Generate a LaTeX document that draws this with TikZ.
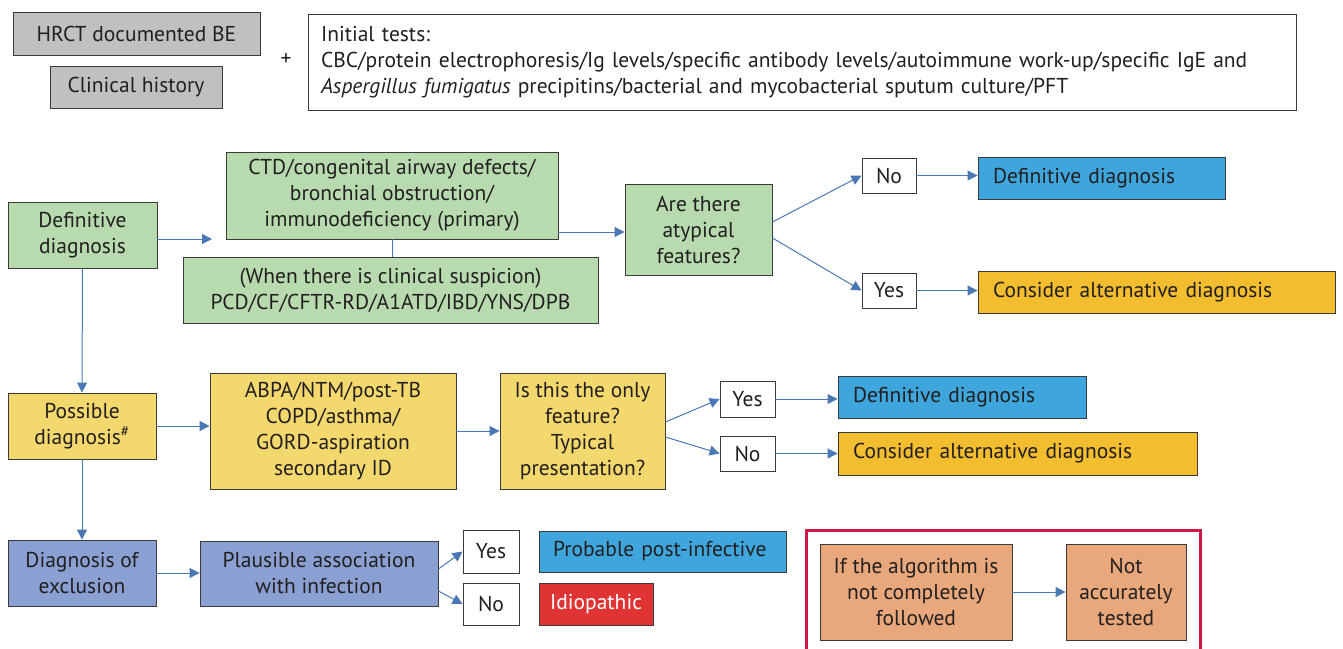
\documentclass[tikz,border=0pt]{standalone}
\usepackage{fontspec}
\setmainfont{PT Sans}
\usetikzlibrary{arrows.meta}
\definecolor{ink}{HTML}{231F20}
\definecolor{edge}{HTML}{3A3A3A}
\definecolor{greyfill}{HTML}{C0C0C0}
\definecolor{greenfill}{HTML}{B7DAAF}
\definecolor{bluefill}{HTML}{3EA6DD}
\definecolor{goldfill}{HTML}{F2BD2F}
\definecolor{yellowfill}{HTML}{F3D86D}
\definecolor{perifill}{HTML}{8AA0D3}
\definecolor{redfill}{HTML}{E03434}
\definecolor{salmonfill}{HTML}{E8A87C}
\definecolor{framered}{HTML}{D0174A}
\definecolor{arrowblue}{HTML}{4A78B5}
\tikzset{
  every node/.style={font=\fontsize{21.5}{26}\selectfont, text=ink},
  box/.style={draw=edge, line width=0.9pt, rectangle, inner sep=2pt, align=center},
  answer/.style={box, fill=white},
  result/.style={box, align=left, inner xsep=15pt},
  arr/.style={draw=arrowblue, line width=1pt, -{Triangle[length=10pt,width=10pt]}},
  link/.style={draw=arrowblue, line width=1pt},
}
\begin{document}
\begin{tikzpicture}[x=1pt,y=-1pt]
\useasboundingbox (0,0) rectangle (1343,648);
\clip (0,0) rectangle (1343,648);
\fill[white] (0,0) rectangle (1343,648);

% starting information
\node[box, fill=greyfill, minimum width=247pt, minimum height=43pt] (hrct) at (136.5,33.5) {HRCT documented BE};
\node[box, fill=greyfill, minimum width=172pt, minimum height=42pt] (clin) at (136,87) {Clinical history};
\node (plus) at (286,60) {+};
\node[box, fill=white, align=left, inner xsep=13pt, text width=962pt, minimum height=96pt] (init) at (802,62)
  {Initial tests:\\
   CBC/protein electrophoresis/Ig levels/specific antibody levels/autoimmune work-up/specific IgE and\\
   \textit{Aspergillus fumigatus} precipitins/bacterial and mycobacterial sputum culture/PFT};

% definitive diagnosis branch
\node[box, fill=greenfill, minimum width=149pt, minimum height=66pt] (def) at (82.5,235) {Definitive\\diagnosis};
\node[box, fill=greenfill, minimum width=332pt, minimum height=87pt] (ctd) at (392,195.5)
  {CTD/congenital airway defects/\\bronchial obstruction/\\immunodeficiency (primary)};
\node[box, fill=greenfill, minimum width=415pt, minimum height=66pt] (when) at (390.5,290)
  {(When there is clinical suspicion)\\PCD/CF/CFTR-RD/A1ATD/IBD/YNS/DPB};
\node[box, fill=greenfill, minimum width=147pt, minimum height=91pt] (atyp) at (698.5,229.5)
  {Are there\\atypical\\features?};
\node[answer, minimum width=54pt, minimum height=35pt] (no1) at (889,175.5) {No};
\node[answer, minimum width=54pt, minimum height=35pt] (yes1) at (889,290.5) {Yes};
\node[result, fill=bluefill, text width=217pt, minimum height=42pt] (defA) at (1101.5,178) {Definitive diagnosis};
\node[result, fill=goldfill, text width=327pt, minimum height=42pt] (altA) at (1156.5,292) {Consider alternative diagnosis};

% possible diagnosis branch
\node[box, fill=yellowfill, minimum width=148pt, minimum height=66pt] (poss) at (82,426) {Possible\\diagnosis\textsuperscript{\#}};
\node[box, fill=yellowfill, minimum width=246pt, minimum height=116pt] (abpa) at (333,431)
  {ABPA/NTM/post-TB\\COPD/asthma/\\GORD-aspiration\\secondary ID};
\node[box, fill=yellowfill, minimum width=165pt, minimum height=116pt] (only) at (582.5,431)
  {Is this the only\\feature?\\Typical\\presentation?};
\node[answer, minimum width=55pt, minimum height=36pt] (yes2) at (747.5,399) {Yes};
\node[answer, minimum width=55pt, minimum height=35pt] (no2) at (747.5,453.5) {No};
\node[result, fill=bluefill, text width=218pt, minimum height=42pt] (defB) at (962,397) {Definitive diagnosis};
\node[result, fill=goldfill, text width=329pt, minimum height=43pt] (altB) at (1017.5,453.5) {Consider alternative diagnosis};

% diagnosis of exclusion branch
\node[box, fill=perifill, minimum width=148pt, minimum height=66pt] (excl) at (82,573) {Diagnosis of\\exclusion};
\node[box, fill=perifill, minimum width=238pt, minimum height=65pt] (plaus) at (319,573.5)
  {Plausible association\\with infection};
\node[answer, minimum width=56pt, minimum height=43pt] (yes3) at (491,551.5) {Yes};
\node[answer, minimum width=56pt, minimum height=42pt] (no3) at (491,604) {No};
\node[result, fill=bluefill, inner xsep=14pt, text width=219pt, minimum height=41pt] (prob) at (662.5,551.5) {Probable post-infective};
\node[box, fill=redfill, minimum width=114pt, minimum height=42pt, text=white] (idio) at (596,604) {Idiopathic};

% caution panel
\draw[framered, line width=3pt] (806,530) rectangle (1200,670);
\node[box, fill=salmonfill, minimum width=192pt, minimum height=96pt] (ifalg) at (916,592)
  {If the algorithm is\\not completely\\followed};
\node[box, fill=salmonfill, minimum width=120pt, minimum height=96pt] (nacc) at (1126,592)
  {Not\\accurately\\tested};

% connectors
\coordinate (defout) at (212,239);
\draw[arr] (def.east |- defout) -- (defout);
\coordinate (ctdout) at (625,232);
\draw[arr] (ctd.east |- ctdout) -- (atyp.west |- ctdout);
\draw[link] (ctd.south) -- (ctd.south |- when.north);
\draw[arr] ([yshift=7.5pt]atyp.east) -- (no1.west);
\draw[arr] ([yshift=-8.5pt]atyp.east) -- (yes1.west);
\draw[arr] (no1.east) -- (no1.east -| defA.west);
\draw[arr] (yes1.east) -- (yes1.east -| altA.west);

\draw[arr] (def.south) -- (poss.north);
\draw[arr] (poss.east) -- (poss.east -| abpa.west);
\draw[arr] (abpa.east) -- (only.west);
\draw[arr] ([yshift=9pt]only.east) -- (yes2.west);
\draw[arr] ([yshift=-6pt]only.east) -- (no2.west);
\draw[arr] (yes2.east) -- (yes2.east -| defB.west);
\draw[arr] (no2.east) -- (no2.east -| altB.west);

\draw[arr] (poss.south) -- (excl.north);
\draw[arr] (excl.east) -- (excl.east -| plaus.west);
\draw[arr] ([yshift=4.5pt]plaus.east) -- (yes3.west);
\draw[arr] ([yshift=-17.5pt]plaus.east) -- (no3.west);

\draw[arr] (ifalg.east) -- (nacc.west);
\end{tikzpicture}
\end{document}
